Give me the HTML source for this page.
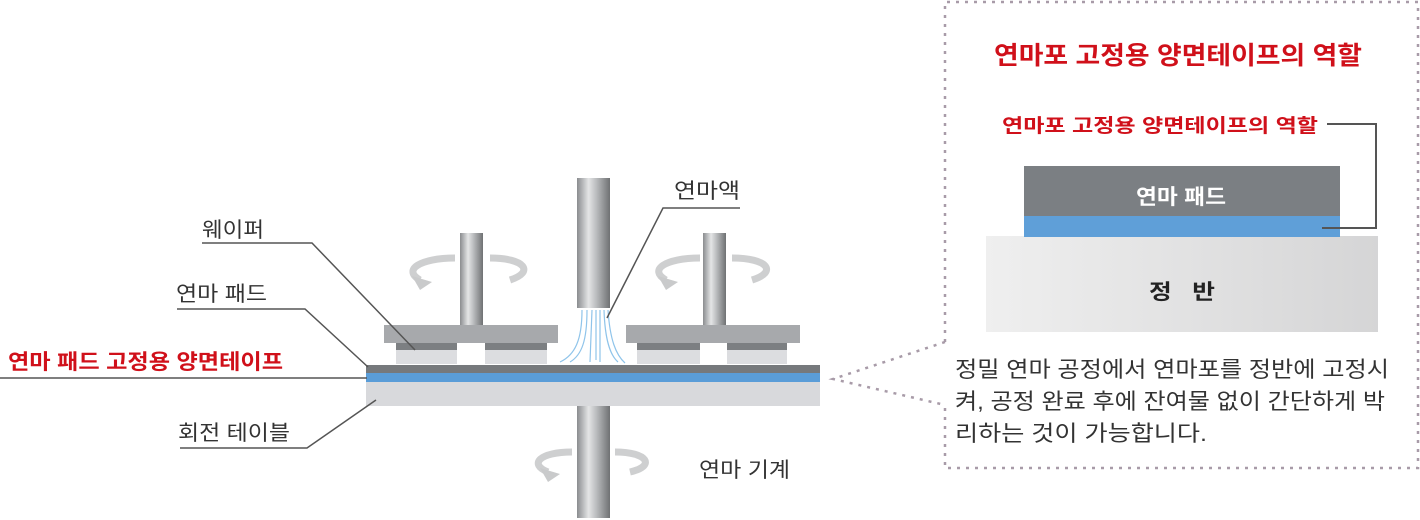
<!DOCTYPE html>
<html><head><meta charset="utf-8"><style>
html,body{margin:0;padding:0;background:#fff;}
svg{display:block;}
text{font-family:"Liberation Sans","Noto Sans CJK KR",sans-serif;}
</style></head><body>
<svg width="1420" height="520" viewBox="0 0 1420 520" xmlns="http://www.w3.org/2000/svg">
<defs>
<linearGradient id="cyl" x1="0" x2="1" y1="0" y2="0">
<stop offset="0" stop-color="#8a8c8f"/><stop offset="0.35" stop-color="#e4e5e6"/><stop offset="0.6" stop-color="#b8babc"/><stop offset="1" stop-color="#6f7173"/>
</linearGradient>
<linearGradient id="plat" x1="0" x2="1"><stop offset="0" stop-color="#efefef"/><stop offset="1" stop-color="#d5d5d6"/></linearGradient>
</defs>
<rect x="577" y="178" width="33" height="130" fill="url(#cyl)"/>
<rect x="577" y="406" width="33" height="112" fill="url(#cyl)"/>
<rect x="460" y="233" width="23" height="93" fill="url(#cyl)"/>
<rect x="703" y="233" width="23" height="93" fill="url(#cyl)"/>
<g fill="none" stroke="#c9cacb" stroke-width="7" opacity="0.9">
<path d="M455 258 C420 258 402 270 420 280"/><path d="M490 258 C525 258 535 272 510 280"/>
<path d="M700 258 C665 258 648 270 666 280"/><path d="M732 258 C768 258 778 272 752 280"/>
<path d="M572 452 C540 452 528 464 548 472"/><path d="M615 452 C648 452 656 466 630 472"/>
</g>
<g fill="#c9cacb"><path d="M412 276 L432 282 L420 290Z"/><path d="M658 276 L678 282 L666 290Z"/><path d="M540 468 L560 474 L548 482Z"/></g>
<rect x="384" y="325" width="174" height="18" fill="#a7a9ac"/>
<rect x="626" y="325" width="174" height="18" fill="#a7a9ac"/>
<g fill="#7c7f82"><rect x="396" y="343" width="61" height="7"/><rect x="485" y="343" width="62" height="7"/><rect x="637" y="343" width="63" height="7"/><rect x="727" y="343" width="60" height="7"/></g>
<g fill="#dcdde0"><rect x="396" y="350" width="61" height="14"/><rect x="485" y="350" width="62" height="14"/><rect x="637" y="350" width="63" height="14"/><rect x="727" y="350" width="60" height="14"/></g>
<g fill="none" stroke="#8fc4ea" stroke-width="1.2">
<path d="M582 310 C582 340 575 355 560 362"/><path d="M587 310 C587 340 582 355 570 362"/><path d="M592 310 L590 362"/><path d="M596 310 L596 360"/><path d="M600 310 L600 362"/><path d="M604 310 C605 340 610 355 618 362"/><path d="M608 310 C610 340 616 355 625 363"/>
</g>
<rect x="366" y="365" width="454" height="8" fill="#76797c"/>
<rect x="366" y="373" width="454" height="9" fill="#5a9dd8"/>
<rect x="366" y="382" width="454" height="24" fill="#d8d9dc"/>
<g fill="none" stroke="#555" stroke-width="1.5">
<polyline points="202,243 312,243 415,350"/>
<polyline points="177,309 305,309 368,367"/>
<line x1="0" y1="378" x2="367" y2="378"/>
<polyline points="180,448 307,448 376,400"/>
<polyline points="740,208 663,208 607,318"/>
</g>
<g font-size="21" fill="#333" lengthAdjust="spacingAndGlyphs">
<text x="202" y="237" textLength="62" lengthAdjust="spacingAndGlyphs">웨이퍼</text>
<text x="176" y="301" textLength="91" lengthAdjust="spacingAndGlyphs">연마 패드</text>
<text x="178" y="440" textLength="112" lengthAdjust="spacingAndGlyphs">회전 테이블</text>
<text x="674" y="198" textLength="66" lengthAdjust="spacingAndGlyphs">연마액</text>
<text x="699" y="477" textLength="91" lengthAdjust="spacingAndGlyphs">연마 기계</text>
</g>
<text x="8" y="369" font-size="21" font-weight="bold" fill="#d0101a" textLength="275" lengthAdjust="spacingAndGlyphs">연마 패드 고정용 양면테이프</text>
<g fill="none" stroke="#a89ba8" stroke-width="2.5" stroke-dasharray="3,6">
<polyline points="945,342 945,2 1418,2 1418,468 945,468 945,405"/>
<polyline points="945,342 833,379 945,405"/>
</g>
<text x="994" y="64" font-size="25" font-weight="bold" fill="#d0101a" textLength="368" lengthAdjust="spacingAndGlyphs">연마포 고정용 양면테이프의 역할</text>
<text x="1002" y="132" font-size="19" font-weight="bold" fill="#d0101a" textLength="316" lengthAdjust="spacingAndGlyphs">연마포 고정용 양면테이프의 역할</text>
<rect x="986" y="236" width="392" height="96" fill="url(#plat)"/>
<rect x="1024" y="166" width="316" height="50" fill="#7b7f83"/>
<rect x="1024" y="216" width="316" height="21" fill="#5f9fd8"/>
<polyline points="1327,124 1376,124 1376,228 1322,228" fill="none" stroke="#555" stroke-width="2"/>
<text x="1136" y="204" font-size="21" font-weight="bold" fill="#fff" textLength="90" lengthAdjust="spacingAndGlyphs">연마 패드</text>
<text x="1149" y="299" font-size="21" font-weight="bold" fill="#222" textLength="66" lengthAdjust="spacingAndGlyphs">정&#160;&#160;&#160;반</text>
<g font-size="22" fill="#333">
<text x="955" y="377" textLength="434" lengthAdjust="spacingAndGlyphs">정밀 연마 공정에서 연마포를 정반에 고정시</text>
<text x="955" y="409" textLength="430" lengthAdjust="spacingAndGlyphs">켜, 공정 완료 후에 잔여물 없이 간단하게 박</text>
<text x="955" y="441" textLength="252" lengthAdjust="spacingAndGlyphs">리하는 것이 가능합니다.</text>
</g>
</svg>
</body></html>
